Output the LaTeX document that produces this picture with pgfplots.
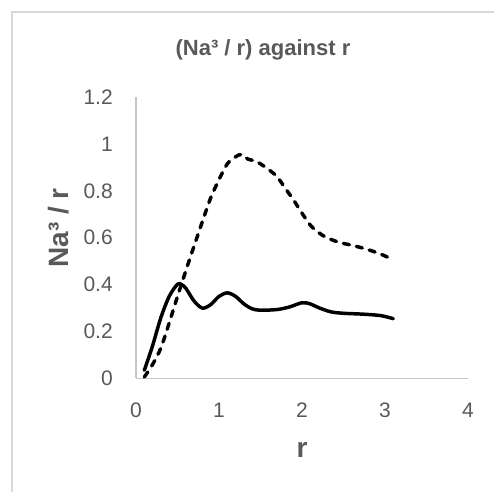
\documentclass[border=0pt]{standalone}
\usepackage{fontspec}
\setmainfont{Liberation Sans}
\usepackage{pgfplots}
\pgfplotsset{compat=1.18}
\definecolor{txt}{HTML}{595959}
\definecolor{axisgrey}{HTML}{C6C6C6}
\definecolor{framegrey}{HTML}{D9D9D9}

\begin{document}
\begin{tikzpicture}
% page = 494x492 px at 0.75bp per px
\path[use as bounding box] (0,0) rectangle (370.5bp,369bp);
\draw[framegrey, line width=1.4bp] (9bp,-5bp) -- (9bp,360bp) -- (380bp,360bp);
\begin{axis}[
  at={(102bp,85.125bp)}, anchor=south west,
  scale only axis,
  width=249bp, height=211.125bp,
  xmin=0, xmax=4, ymin=0, ymax=1.2,
  xtick={0,1,2,3,4},
  ytick={0,0.2,0.4,0.6,0.8,1,1.2},
  axis x line*=bottom, axis y line*=left,
  axis line style={axisgrey, line width=1.3bp},
  major tick length=0pt,
  /pgf/number format/assume math mode=true,
  ticklabel style={text=txt, font=\fontsize{15.75bp}{18bp}\selectfont, inner sep=0pt},
  yticklabel style={anchor=east, xshift=-17.25bp},
  xticklabel style={anchor=north, yshift=-18.4bp},
  every axis title/.style={at={(axis description cs:0.3825,1)}, anchor=base,
    yshift=30.75bp, text=txt, font=\bfseries\fontsize{16.5bp}{18bp}\selectfont},
  every axis x label/.style={at={(axis description cs:0.5,0)}, anchor=base,
    yshift=-59.6bp, text=txt, font=\bfseries\fontsize{21bp}{24bp}\selectfont},
  every axis y label/.style={at={(axis description cs:-0.2048,0.535)}, rotate=90,
    anchor=base, text=txt, font=\bfseries\fontsize{21bp}{24bp}\selectfont},
  title={(Na³ / r) against r},
  xlabel={r},
  ylabel={Na³ / r},
  clip=false,
]
% solid series
\addplot[black, line width=2.6bp, smooth, tension=0.5, line cap=round] coordinates {
(0.1,0.035) (0.2,0.14) (0.3,0.26) (0.4,0.35) (0.5,0.402) (0.55,0.40)
(0.6,0.385) (0.7,0.33) (0.8,0.30) (0.9,0.315) (1.0,0.35) (1.1,0.365)
(1.2,0.35) (1.3,0.318) (1.4,0.297) (1.5,0.291) (1.7,0.294) (1.85,0.305)
(2.0,0.323) (2.1,0.318) (2.2,0.302) (2.35,0.284) (2.5,0.278) (2.75,0.274)
(2.95,0.268) (3.1,0.255)
};
% dashed series
\addplot[black, line width=2.6bp, smooth, tension=0.5, line cap=round,
  dash pattern=on 4.6bp off 5.4bp] coordinates {
(0.1,0.006) (0.2,0.06) (0.3,0.13) (0.4,0.237) (0.5,0.35) (0.6,0.459)
(0.7,0.565) (0.8,0.669) (0.9,0.77) (1.0,0.848) (1.1,0.915) (1.2,0.945)
(1.27,0.955) (1.35,0.935) (1.43,0.928) (1.5,0.915) (1.6,0.89) (1.7,0.86)
(1.8,0.81) (1.9,0.76) (2.0,0.705) (2.1,0.654) (2.2,0.622) (2.3,0.60)
(2.45,0.58) (2.6,0.568) (2.78,0.551) (2.95,0.53) (3.1,0.506)
};
\end{axis}
\end{tikzpicture}
\end{document}
